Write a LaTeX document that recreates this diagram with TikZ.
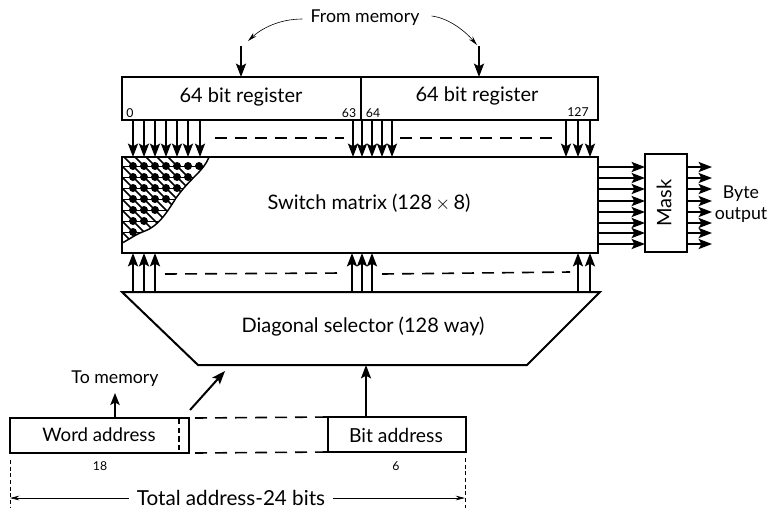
\documentclass[tikz,border=0pt]{standalone}
\usepackage{fontspec}
\setmainfont{Lato}
\usetikzlibrary{arrows.meta,calc}
\tikzset{
  box/.style={draw,line width=1.5pt,inner sep=0pt,outer sep=0pt},
  lab/.style={inner sep=0pt,font=\fontsize{15}{17}\selectfont},
  labm/.style={inner sep=0pt,font=\fontsize{13.3}{15}\selectfont},
  smalln/.style={inner sep=0pt,font=\fontsize{9.2}{10}\selectfont},
  bus/.style={line width=1.5pt,-{Stealth[length=10pt,width=7.5pt,inset=2pt]}},
  thinarrow/.style={line width=.45pt,-{Stealth[length=7pt,width=3.5pt]}},
  dashline/.style={line width=1.2pt,dash pattern=on 9pt off 6pt},
}
\begin{document}
\begin{tikzpicture}[x=.75pt,y=-.75pt]
\useasboundingbox (0,0) rectangle (770,508);
% registers
\node[box,minimum width=179.25pt,minimum height=32.25pt] (rega) at (241.5,98.5) {};
\node[box,minimum width=177.75pt,minimum height=32.25pt] (regb) at (479.5,98.5) {};
\node[lab] (ta) at (241,97) {64 bit register};
\node[lab] (tb) at (477,96) {64 bit register};
\node[smalln] (n0) at (130,113) {0};
\node[smalln] (n63) at (349,113) {63};
\node[smalln] (n64) at (373,113) {64};
\node[smalln] (n127) at (578,112) {127};
% switch matrix
\node[box,minimum width=357pt,minimum height=72pt] (mat) at (360,205) {};
\node[lab] (tm) at (369,203) {Switch matrix (128$\,\times\,$8)};
% mask
\node[box,minimum width=31.5pt,minimum height=73.5pt] (mask) at (666,203) {};
\node[lab,rotate=90] (tmask) at (664,203) {Mask};
\node[labm,align=center] (byte) at (741,204) {Byte\\[1pt]output};
% selector
\coordinate (seltl) at (122,292);
\coordinate (seltr) at (600,292);
\coordinate (selbr) at (527,365);
\coordinate (selbl) at (198,365);
\draw[line width=1.5pt,line join=miter] (seltl) -- (seltr) -- (selbr) -- (selbl) -- cycle;
\node[lab] (sel) at (363,327) {Diagonal selector (128 way)};
% address
\node[box,minimum width=134.25pt,minimum height=26.25pt] (word) at (99.5,435.5) {};
\node[labm,font=\fontsize{14}{16}\selectfont] (tw) at (99,435) {Word address};
\node[box,minimum width=103.5pt,minimum height=26.25pt] (bit) at (397,434.5) {};
\node[labm,font=\fontsize{14.5}{16}\selectfont] (tbit) at (396,435) {Bit address};
\node[smalln] (n18) at (100,466) {18};
\node[smalln] (n6) at (396,466) {6};
\node[labm] (mem) at (365,18) {From memory};
\node[labm] (tomem) at (115,379) {To memory};
\node[lab,font=\fontsize{15.5}{17}\selectfont] (total) at (231,498) {Total address-24 bits};
% from memory
\coordinate (ma) at (241,46);
\coordinate (mb) at (479,46);
\draw[bus] (ma) -- (ma |- rega.north);
\draw[bus] (mb) -- (mb |- regb.north);
\draw[thinarrow] (mem.west) ++(-8,1) .. controls (280,19) and (262,28) .. (248,41);
\draw[thinarrow] (mem.east) ++(12,-2) .. controls (448,18) and (464,30) .. (477,45);
% register to matrix
\foreach \x in {133,144,155,166,177,188,200,353,362,372,382,392,566,578,590}
  \draw[bus] (\x,0 |- rega.south) -- (\x,0 |- mat.north);
\draw[dashline] (215,138) -- (344,138);
\draw[dashline] (400,138) -- (556,138);
% selector to matrix
\foreach \x in {133,144,155,352,362,372,578,590}
  \draw[bus] (\x,0 |- seltl) -- (\x,0 |- mat.south);
\draw[dashline] (165,274) -- (342,273);
\draw[dashline] (382,274) -- (570,272);
% matrix to mask to output
\foreach \y in {167,178,189,201,212,223,233,244}{
  \draw[bus] (mat.east |- 0,\y) -- (mask.west |- 0,\y);
  \draw[bus] (mask.east |- 0,\y) -- (712,\y);
}
% corner of crosspoints
\begin{scope}
\clip (122,157) -- (209,157) .. controls (203,172) and (192,176) .. (176,198) .. controls (166,214) and (158,226) .. (145,231) .. controls (136,234) and (130,239) .. (122,243) -- cycle;
\foreach \i in {0,...,6}
  \draw[line width=.6pt] (122,166+11*\i) -- (209,166+11*\i);
\foreach \k in {-4,...,8}
  \draw[line width=1.1pt] (122,155+11*\k) -- ++(100,100);
\foreach \i in {0,...,6}{
  \pgfmathtruncatemacro{\m}{6-\i}
  \foreach \j in {0,...,\m}
    \fill (133+11*\j,166+11*\i) circle[radius=4];
}
\end{scope}
\draw[line width=1.1pt] (209,157) .. controls (203,172) and (192,176) .. (176,198) .. controls (166,214) and (158,226) .. (145,231) .. controls (136,234) and (130,239) .. (122,243);
% address arrows
\coordinate (ta1) at (115,393);
\coordinate (dg) at (225,371);
\coordinate (dgs) at (190,410);
\draw[line width=1.5pt,-{Stealth[length=9pt,width=7pt,inset=2pt]}] (word.north -| ta1) -- (ta1);
\draw[bus] (dgs) -- (dg);
\draw[bus] (bit.north -| 366,0) -- (selbl -| 366,0);
\draw[line width=1.1pt,dash pattern=on 4pt off 2.5pt] (179,419) -- (179,452);
\draw[dashline] (word.north east) ++(6,0) -- (bit.north west);
\draw[dashline] (word.south east) ++(6,0) -- (bit.south west);
% total
\coordinate (lt) at (10,460);
\coordinate (rt) at (465,458);
\draw[line width=.45pt,densely dashed] (lt) -- (10,508);
\draw[line width=.45pt,densely dashed] (rt) -- (465,508);
\draw[thinarrow] (total.west) ++(-8,0) -- (10,498);
\draw[thinarrow] (total.east) ++(8,0) -- (465,498);
\end{tikzpicture}
\end{document}
